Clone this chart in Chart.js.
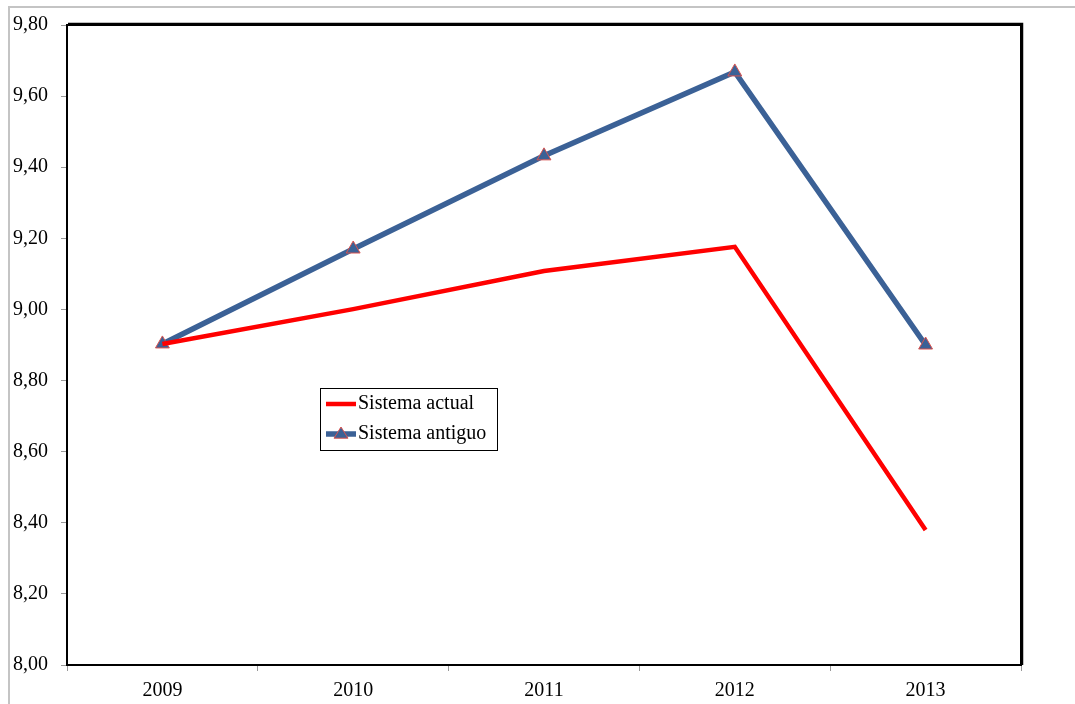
<!DOCTYPE html>
<html>
<head>
<meta charset="utf-8">
<script src="https://cdn.jsdelivr.net/npm/chart.js@4"></script>
<style>
  html, body { margin: 0; padding: 0; background: #fff; overflow: hidden; }
  #frame { position: absolute; left: 8px; top: 6px; width: 1200px; height: 800px;
           border-top: 2px solid #c4c4c4; border-left: 2px solid #c4c4c4; }
  #myChart { position: absolute; left: 0; top: 0; }
</style>
</head>
<body>
<div id="frame"></div>
<canvas id="myChart" width="1075" height="704"></canvas>
<script>
const years = ['2009', '2010', '2011', '2012', '2013'];
const actual = [8.903, 9.001, 9.108, 9.176, 8.38];
const antiguo = [8.903, 9.17, 9.432, 9.668, 8.90];
const seriesNames = ['Sistema actual', 'Sistema antiguo'];

const serif = "'Liberation Serif', 'Times New Roman', serif";

// frame around plot area + legend box drawn inside the chart
const plotBox = {
    id: 'plotBox',
    afterDraw(chart) {
        const { ctx, chartArea: a } = chart;
        ctx.save();
        ctx.strokeStyle = '#000';
        ctx.lineWidth = 2;
        ctx.strokeRect(a.left, a.top, a.right - a.left, a.bottom - a.top);
        ctx.lineWidth = 1.5;
        ctx.beginPath();
        ctx.moveTo(a.left + 1, a.top - 1.5);
        ctx.lineTo(a.right + 1.5, a.top - 1.5);
        ctx.lineTo(a.right + 1.5, a.bottom);
        ctx.stroke();

        // legend
        const lx = 320, ly = 388, lw = 177, lh = 62;
        ctx.fillStyle = '#fff';
        ctx.fillRect(lx, ly, lw, lh);
        ctx.strokeStyle = '#000';
        ctx.lineWidth = 1;
        ctx.strokeRect(lx + 0.5, ly + 0.5, lw, lh);
        ctx.font = '20px ' + serif;
        ctx.textBaseline = 'middle';
        chart.data.datasets.forEach((ds, i) => {
            const y = ly + 16 + i * 30;
            ctx.strokeStyle = ds.borderColor;
            ctx.lineWidth = ds.borderWidth;
            ctx.beginPath();
            ctx.moveTo(lx + 6, y);
            ctx.lineTo(lx + 36, y);
            ctx.stroke();
            if (ds.pointRadius > 0) {
                const r = 7, cx = lx + 21;
                ctx.beginPath();
                ctx.moveTo(cx, y - r);
                ctx.lineTo(cx + r, y + r * 0.6);
                ctx.lineTo(cx - r, y + r * 0.6);
                ctx.closePath();
                ctx.fillStyle = ds.pointBackgroundColor;
                ctx.fill();
                ctx.strokeStyle = ds.pointBorderColor;
                ctx.lineWidth = 1;
                ctx.stroke();
            }
            ctx.fillStyle = '#000';
            ctx.fillText(ds.label, lx + 38, y);
        });
        ctx.restore();
    }
};

const ctx = document.getElementById('myChart').getContext('2d');
const myChart = new Chart(ctx, {
    type: 'line',
    data: {
        labels: years,
        datasets: [{
            label: seriesNames[0],
            data: actual,
            borderColor: '#ff0000',
            borderWidth: 4.5,
            pointRadius: 0,
            pointHoverRadius: 0,
            tension: 0
        }, {
            label: seriesNames[1],
            data: antiguo,
            borderColor: '#3b6196',
            borderWidth: 5.5,
            pointStyle: 'triangle',
            pointRadius: 8,
            pointBackgroundColor: '#3b6196',
            pointBorderColor: '#d9534f',
            pointBorderWidth: 1,
            tension: 0
        }]
    },
    options: {
        responsive: false,
        animation: false,
        devicePixelRatio: 1,
        layout: { padding: { left: 0, top: 25, right: 54, bottom: 0 } },
        scales: {
            x: {
                offset: true,
                afterFit: s => { s.height = 39; },
                grid: { offset: true, drawOnChartArea: false, drawTicks: true, tickLength: 6, color: '#999' },
                border: { display: false },
                ticks: { color: '#000', padding: 8, font: { family: serif, size: 20 } }
            },
            y: {
                min: 8,
                max: 9.8,
                afterFit: s => { s.width = 67; },
                grid: { drawOnChartArea: false, drawTicks: true, tickLength: 6, color: '#999' },
                border: { display: false },
                ticks: {
                    stepSize: 0.2,
                    color: '#000',
                    padding: 13,
                    font: { family: serif, size: 20 },
                    callback: v => v.toFixed(2).replace('.', ',')
                }
            }
        },
        plugins: {
            legend: { display: false },
            tooltip: { enabled: false }
        }
    },
    plugins: [plotBox]
});
</script>
</body>
</html>
